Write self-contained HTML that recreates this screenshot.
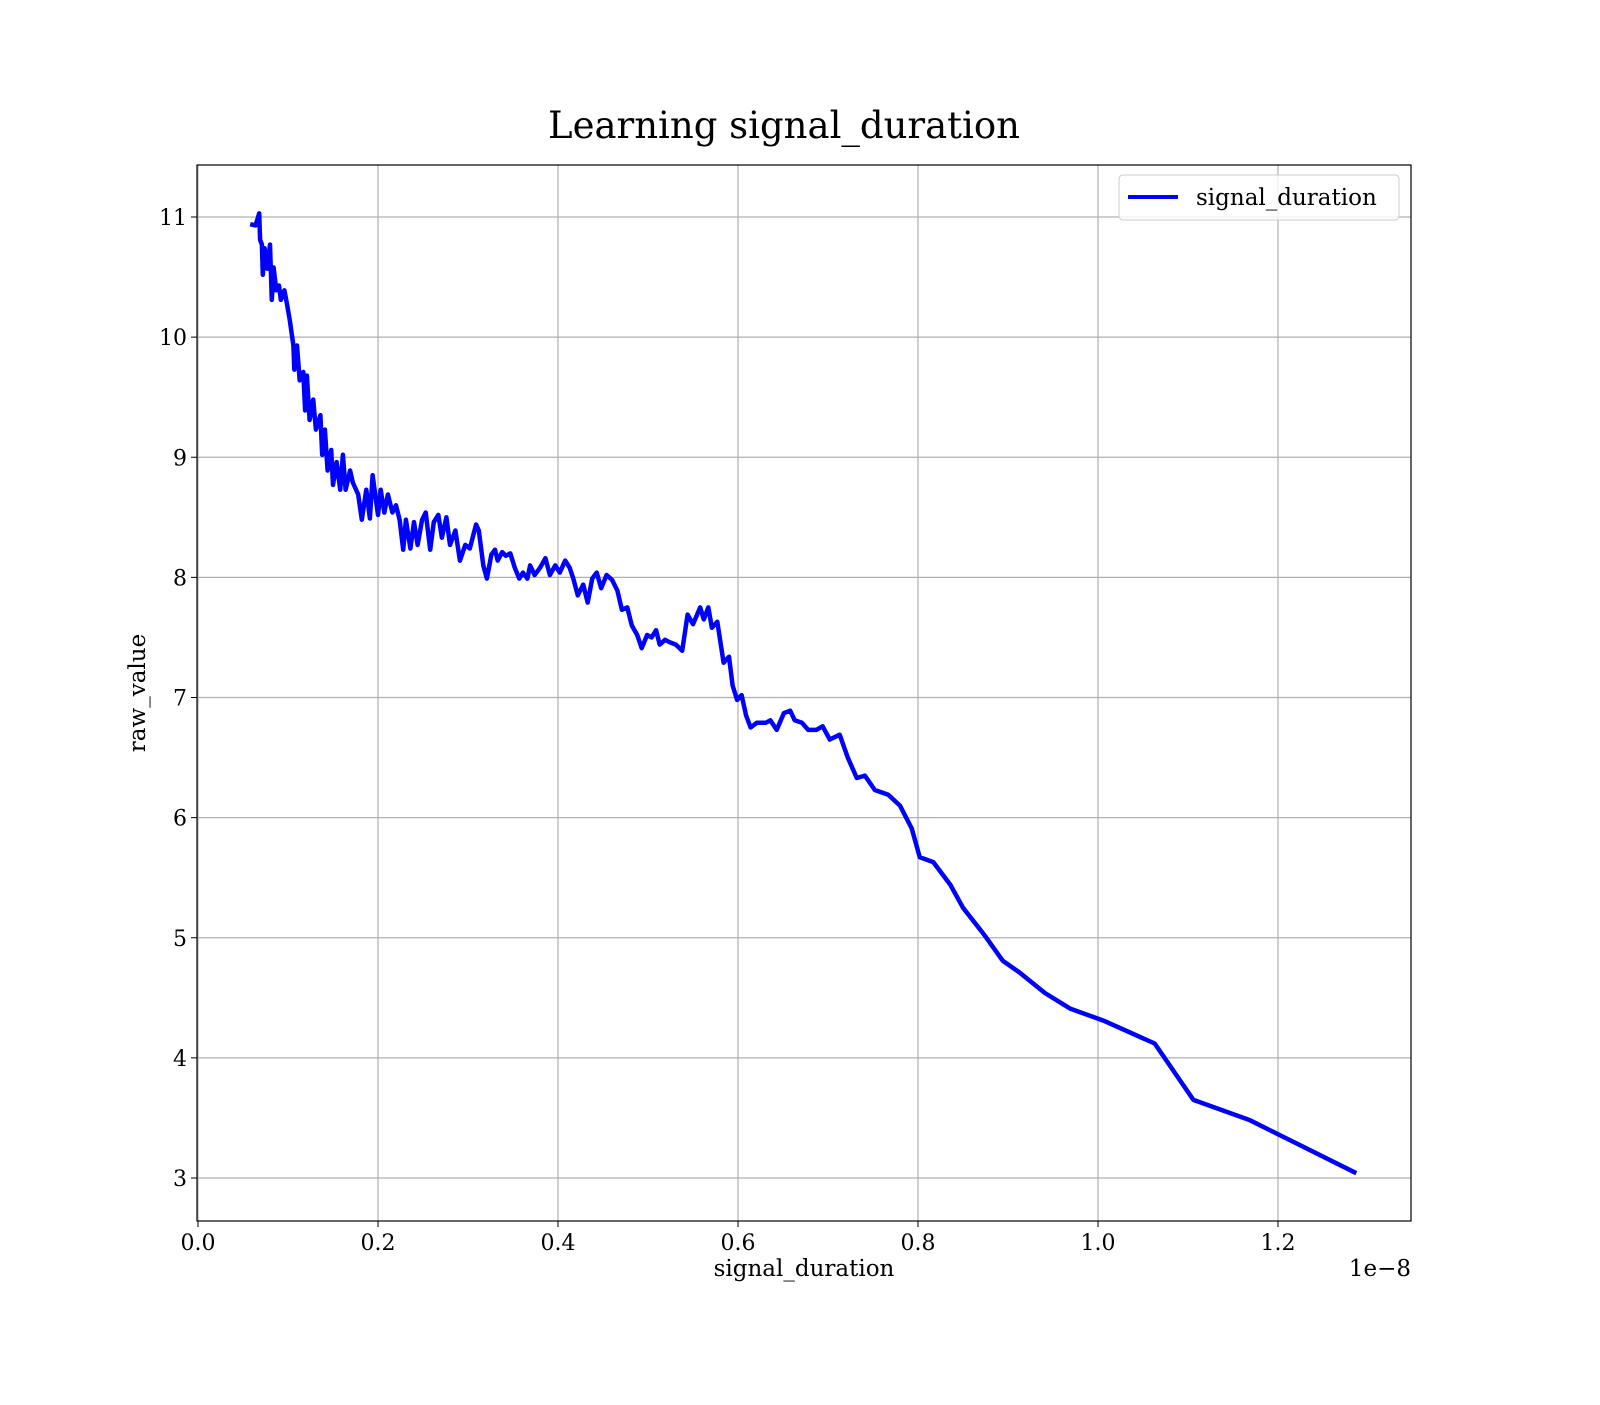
<!DOCTYPE html>
<html><head><meta charset="utf-8"><style>
html,body{margin:0;padding:0;background:#fff}
svg text{font-family:"DejaVu Serif","Liberation Serif",serif;fill:#000}
</style></head><body>
<svg width="1600" height="1400" viewBox="0 0 1600 1400" xmlns="http://www.w3.org/2000/svg">
<rect width="1600" height="1400" fill="#fff"/>
<text x="784" y="138" font-size="37" text-anchor="middle">Learning signal_duration</text>
<g id="grid"></g>
<g id="series"></g>
<rect x="197" y="165" width="1214" height="1056" fill="none" stroke="#000" stroke-width="1.2"/>
<g id="ticks"></g>
<text x="804" y="1276" font-size="23" text-anchor="middle">signal_duration</text>
<text x="1411" y="1276" font-size="23" text-anchor="end">1e−8</text>
<text transform="translate(145,693) rotate(-90)" font-size="23" text-anchor="middle">raw_value</text>
<g>
<rect x="1119" y="175" width="280" height="45" rx="4" fill="#fff" fill-opacity="0.8" stroke="#ccc"/>
<line x1="1128" y1="197" x2="1178" y2="197" stroke="#0000ff" stroke-width="4"/>
<text x="1196" y="205" font-size="23">signal_duration</text>
</g>
</svg>
<script>
const xTicks=[0,0.2,0.4,0.6,0.8,1.0,1.2];
const xTickLabels=["0.0","0.2","0.4","0.6","0.8","1.0","1.2"];
const yTicks=[3,4,5,6,7,8,9,10,11];
const yTickLabels=["3","4","5","6","7","8","9","10","11"];
const xs=[.058,.064,.068,.069,.071,.072,.074,.077,.080,.082,.084,.087,.090,.092,.096,.099,.102,.106,.107,.110,.113,.117,.119,.121,.124,.128,.131,.136,.138,.141,.144,.148,.150,.154,.158,.161,.164,.169,.172,.178,.182,.187,.191,.194,.200,.203,.207,.211,.216,.220,.224,.228,.231,.236,.240,.244,.249,.253,.258,.262,.267,.271,.276,.280,.286,.291,.297,.302,.309,.312,.317,.321,.326,.330,.333,.338,.342,.347,.352,.357,.361,.366,.369,.374,.380,.386,.391,.397,.402,.408,.413,.417,.422,.428,.433,.438,.443,.448,.454,.460,.466,.471,.477,.482,.488,.493,.499,.504,.509,.513,.519,.524,.531,.538,.544,.550,.558,.562,.567,.571,.577,.584,.590,.594,.599,.604,.609,.614,.621,.631,.636,.643,.651,.658,.663,.671,.678,.687,.694,.702,.713,.722,.732,.741,.752,.767,.780,.793,.802,.817,.836,.850,.874,.894,.913,.941,.969,1.006,1.063,1.106,1.169,1.287];
const ys=[10.94,10.93,11.03,10.81,10.77,10.52,10.74,10.57,10.77,10.31,10.58,10.39,10.43,10.31,10.39,10.27,10.14,9.93,9.73,9.93,9.64,9.71,9.39,9.68,9.31,9.48,9.23,9.35,9.02,9.23,8.89,9.06,8.77,8.96,8.73,9.02,8.73,8.89,8.79,8.69,8.48,8.73,8.49,8.85,8.52,8.73,8.54,8.69,8.54,8.60,8.48,8.23,8.48,8.24,8.46,8.27,8.48,8.54,8.23,8.46,8.52,8.33,8.50,8.27,8.39,8.14,8.27,8.24,8.44,8.39,8.10,7.99,8.19,8.23,8.14,8.21,8.18,8.20,8.08,7.99,8.04,7.99,8.10,8.02,8.08,8.16,8.02,8.10,8.04,8.14,8.08,7.99,7.85,7.94,7.79,7.99,8.04,7.91,8.02,7.98,7.89,7.73,7.75,7.60,7.52,7.41,7.52,7.50,7.56,7.44,7.48,7.46,7.44,7.39,7.69,7.61,7.75,7.65,7.75,7.58,7.63,7.29,7.34,7.10,6.98,7.02,6.85,6.75,6.79,6.79,6.81,6.73,6.87,6.89,6.81,6.79,6.73,6.73,6.76,6.65,6.69,6.50,6.33,6.35,6.23,6.19,6.10,5.91,5.67,5.63,5.44,5.25,5.02,4.81,4.71,4.54,4.41,4.31,4.12,3.65,3.48,3.04];
const NS="http://www.w3.org/2000/svg";
const L=197,R=1411,T=165,B=1221;
function xScale(v){return 198+v*900;}
function yScale(v){return 1178-(v-3)*120.125;}
const grid=document.getElementById('grid'),ticks=document.getElementById('ticks'),series=document.getElementById('series');
xTicks.forEach((t,i)=>{
 const x=xScale(t);
 const g=document.createElementNS(NS,'line');
 g.setAttribute('x1',x);g.setAttribute('x2',x);g.setAttribute('y1',T);g.setAttribute('y2',B);
 g.setAttribute('stroke','#b0b0b0');g.setAttribute('stroke-width','1.2');
 
 
 grid.appendChild(g);
 const tk=document.createElementNS(NS,'line');
 tk.setAttribute('x1',x);tk.setAttribute('x2',x);tk.setAttribute('y1',B);tk.setAttribute('y2',B+6);tk.setAttribute('stroke','#000');
 
 
 ticks.appendChild(tk);
 const tx=document.createElementNS(NS,'text');
 tx.setAttribute('x',x);tx.setAttribute('y',B+29);tx.setAttribute('font-size','22');tx.setAttribute('text-anchor','middle');
 tx.textContent=xTickLabels[i];
 
 
 ticks.appendChild(tx);
});
yTicks.forEach((t,i)=>{
 const y=yScale(t);
 const g=document.createElementNS(NS,'line');
 g.setAttribute('x1',L);g.setAttribute('x2',R);g.setAttribute('y1',y);g.setAttribute('y2',y);
 g.setAttribute('stroke','#b0b0b0');g.setAttribute('stroke-width','1.2');
 
 
 grid.appendChild(g);
 const tk=document.createElementNS(NS,'line');
 tk.setAttribute('x1',L-6);tk.setAttribute('x2',L);tk.setAttribute('y1',y);tk.setAttribute('y2',y);tk.setAttribute('stroke','#000');
 
 
 ticks.appendChild(tk);
 const tx=document.createElementNS(NS,'text');
 tx.setAttribute('x',L-10);tx.setAttribute('y',y+8);tx.setAttribute('font-size','22');tx.setAttribute('text-anchor','end');
 tx.textContent=yTickLabels[i];
 
 
 ticks.appendChild(tx);
});
const p=document.createElementNS(NS,'path');
p.setAttribute('d',xs.map((x,i)=>(i?'L':'M')+xScale(x).toFixed(1)+','+yScale(ys[i]).toFixed(1)).join(''));
p.setAttribute('fill','none');p.setAttribute('stroke','#0000ff');p.setAttribute('stroke-width','4.5');p.setAttribute('stroke-linejoin','round');


series.appendChild(p);
</script>
</body></html>
